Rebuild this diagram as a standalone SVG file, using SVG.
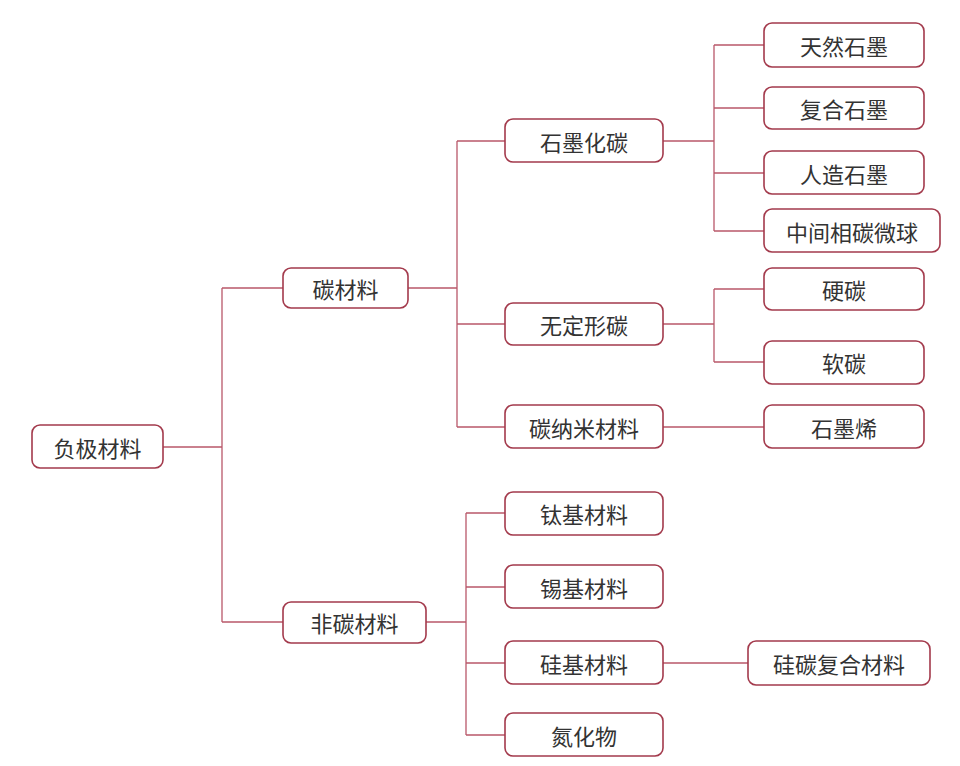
<svg xmlns="http://www.w3.org/2000/svg" width="960" height="766" viewBox="0 0 960 766">
<style>
.n rect{fill:#fff;stroke:#a33a4c;stroke-width:1.6}
.n text{font-family:"Noto Sans CJK SC",sans-serif;font-size:22px;fill:#333;text-anchor:middle;dominant-baseline:central}
#c path{fill:none;stroke:#b9586a;stroke-width:1.3}
</style>
<rect width="960" height="766" fill="#fff"/>
<g id="c">
<path d="M163 447H222M222 288V622M222 288H283M222 622H283"/>
<path d="M408 288H457M457 141V427M457 141H505M457 324H505M457 427H505"/>
<path d="M426 622H466M466 513V735M466 513H505M466 587H505M466 663H505M466 735H505"/>
<path d="M663 141H714M714 45V231M714 45H764M714 108H764M714 173H764M714 231H764" />
<path d="M663 324H714M714 289V362M714 289H764M714 362H764"/>
<path d="M663 427H764M663 663H748"/>
</g>
<g id="n1" class="n"><rect x="32" y="425" width="131" height="43" rx="8"/><text x="97.5" y="447">负极材料</text></g>
<g id="n2" class="n"><rect x="283" y="268" width="125" height="40" rx="8"/><text x="345.5" y="288">碳材料</text></g>
<g id="n3" class="n"><rect x="283" y="602" width="143" height="41" rx="8"/><text x="354.5" y="622">非碳材料</text></g>
<g id="n4" class="n"><rect x="505" y="119" width="158" height="43" rx="8"/><text x="584" y="141">石墨化碳</text></g>
<g id="n5" class="n"><rect x="505" y="303" width="158" height="42" rx="8"/><text x="584" y="324">无定形碳</text></g>
<g id="n6" class="n"><rect x="505" y="405" width="158" height="43" rx="8"/><text x="584" y="427">碳纳米材料</text></g>
<g id="n7" class="n"><rect x="505" y="492" width="158" height="43" rx="8"/><text x="584" y="513">钛基材料</text></g>
<g id="n8" class="n"><rect x="505" y="565" width="158" height="43" rx="8"/><text x="584" y="587">锡基材料</text></g>
<g id="n9" class="n"><rect x="505" y="641" width="158" height="43" rx="8"/><text x="584" y="663">硅基材料</text></g>
<g id="n10" class="n"><rect x="505" y="713" width="158" height="43" rx="8"/><text x="584" y="735">氮化物</text></g>
<g id="n11" class="n"><rect x="764" y="23" width="160" height="44" rx="8"/><text x="844" y="45">天然石墨</text></g>
<g id="n12" class="n"><rect x="764" y="87" width="160" height="42" rx="8"/><text x="844" y="108">复合石墨</text></g>
<g id="n13" class="n"><rect x="764" y="151" width="160" height="43" rx="8"/><text x="844" y="173">人造石墨</text></g>
<g id="n14" class="n"><rect x="764" y="209" width="176" height="43" rx="8"/><text x="852" y="231">中间相碳微球</text></g>
<g id="n15" class="n"><rect x="764" y="268" width="160" height="42" rx="8"/><text x="844" y="289">硬碳</text></g>
<g id="n16" class="n"><rect x="764" y="341" width="160" height="43" rx="8"/><text x="844" y="362">软碳</text></g>
<g id="n17" class="n"><rect x="764" y="405" width="160" height="43" rx="8"/><text x="844" y="427">石墨烯</text></g>
<g id="n18" class="n"><rect x="748" y="641" width="182" height="44" rx="8"/><text x="839" y="663">硅碳复合材料</text></g>
</svg>
